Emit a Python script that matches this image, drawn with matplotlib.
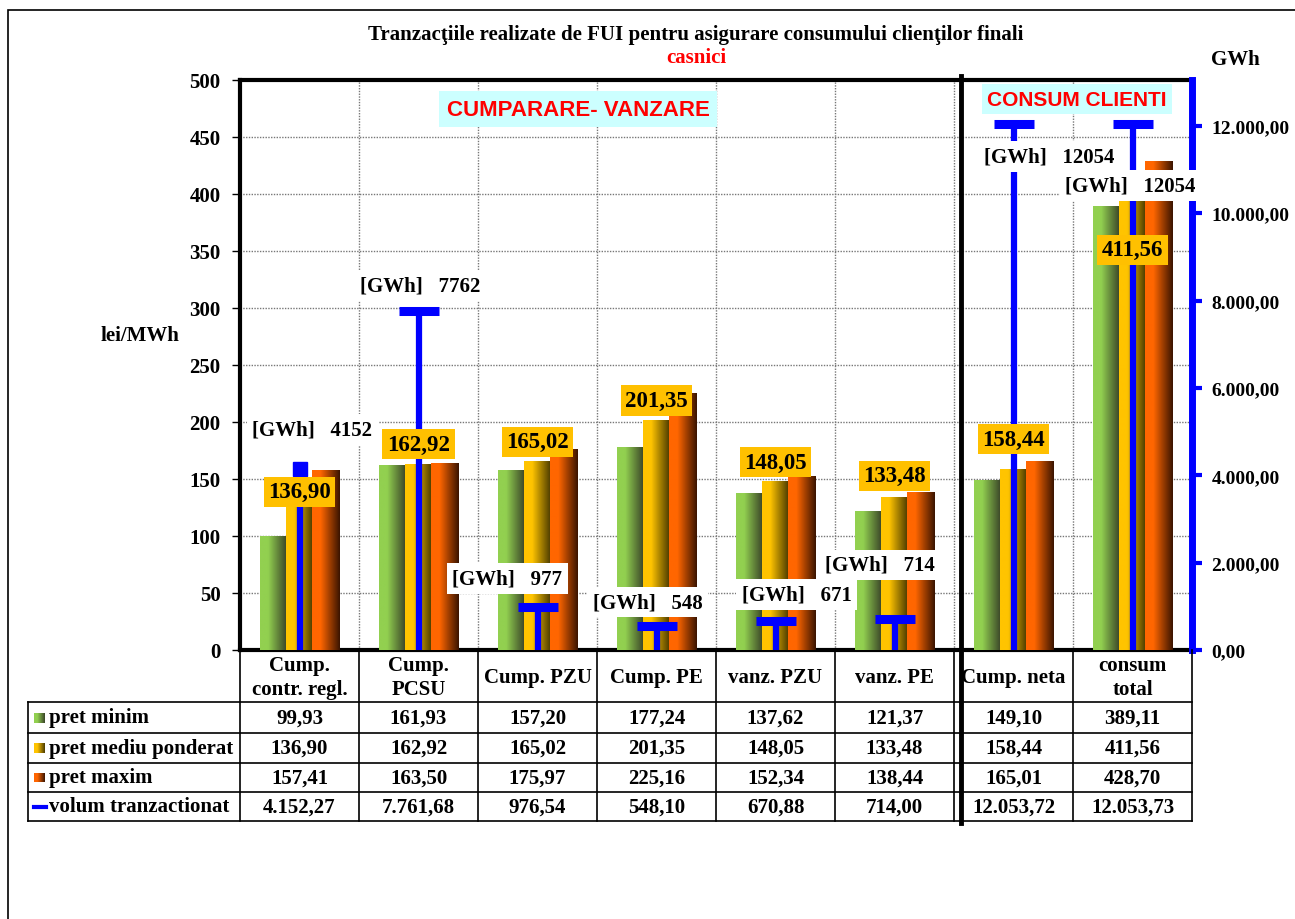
import matplotlib.pyplot as plt
import numpy as np
from matplotlib.colors import LinearSegmentedColormap
from matplotlib.patches import Rectangle
from matplotlib.lines import Line2D

plt.rcParams['font.family'] = ['Liberation Serif', 'DejaVu Serif']
plt.rcParams['font.weight'] = 'bold'

# data
categorii = ['Cump.\ncontr. regl.', 'Cump.\nPCSU', 'Cump. PZU', 'Cump. PE',
             'vanz. PZU', 'vanz. PE', 'Cump. neta', 'consum\ntotal']
pret_minim = [99.93, 161.93, 157.20, 177.24, 137.62, 121.37, 149.10, 389.11]
pret_mediu = [136.90, 162.92, 165.02, 201.35, 148.05, 133.48, 158.44, 411.56]
pret_maxim = [157.41, 163.50, 175.97, 225.16, 152.34, 138.44, 165.01, 428.70]
volum = [4152.27, 7761.68, 976.54, 548.10, 670.88, 714.00, 12053.72, 12053.73]
serii = ['pret minim', 'pret mediu ponderat', 'pret maxim', 'volum tranzactionat']

# offsets of the hand-placed labels (pixels)
off_gwh = [(13, 39), (2, 25), (-30, 29), (-9, 24), (21, 26), (-15, 54), (36, -33), (-2, -62)]
off_pret = [(0, 2), (0, 20), (0, 20), (0, 20), (0, 19), (0, 22), (0, 30), (0, -69)]


def fmt_ro(v, dec=2):
    s = f'{v:,.{dec}f}'
    return s.replace(',', 'X').replace('.', ',').replace('X', '.')


W, H = 1295, 920
fig = plt.figure(figsize=(W / 100, H / 100), dpi=100)


def fx(px):
    return px / W


def fy(py):
    return 1 - py / H


FS = 15

# outer frame
fig.add_artist(Rectangle((fx(8), fy(930)), fx(1300), fy(11) - fy(930), transform=fig.transFigure,
                         fill=False, ec='black', lw=1.2))

ax = fig.add_axes([fx(240), fy(651), fx(1192) - fx(240), fy(81) - fy(651)])
ax2 = ax.twinx()

n = len(categorii)
x = np.arange(n)
culori = [('#92D050', '#3A4428'), ('#FFC400', '#4A3A00'), ('#FF6600', '#3A1400')]
latimi = [0.22, 0.22, 0.235]
offs = [-0.22, 0.0, 0.225]
grad = np.linspace(0, 1, 128).reshape(1, -1)
cmaps = []
for c0, c1 in culori:
    cm = LinearSegmentedColormap.from_list('g', [(0, c0), (0.3, c0), (1, c1)])
    cmaps.append(cm)

for vals, w, o, cm in zip([pret_minim, pret_mediu, pret_maxim], latimi, offs, cmaps):
    bars = ax.bar(x + o, vals, w, color='none', zorder=3)
    for b in bars:
        x0 = b.get_x()
        ax.imshow(grad, extent=[x0, x0 + b.get_width(), 0, b.get_height()], aspect='auto',
                  cmap=cm, zorder=3, interpolation='bilinear')

ax.set_xlim(-0.5, n - 0.5)
ax.set_ylim(0, 500)
ax.set_yticks(np.arange(0, 501, 50))
ax.set_xticks(np.arange(n + 1) - 0.5, minor=False)
ax.set_xticklabels([])
ax.tick_params(axis='x', length=0)
ax.tick_params(axis='y', labelsize=FS, length=6, width=1, pad=8)
for t in ax.get_yticklabels():
    t.set_fontweight('bold')
ax.grid(True, color='#777777', ls=(0, (1, 1)), lw=1, zorder=0)
for s in ['left', 'bottom', 'top']:
    ax.spines[s].set_linewidth(3)
ax.spines['right'].set_visible(False)

# volume on right axis
ax2.set_ylim(0, 13050)
ax2.vlines(x, 0, volum, colors='#0000FF', lw=4.5, zorder=4)
ax2.plot(x[:1], volum[:1], ls='none', marker='s', ms=10, color='#0000FF', zorder=4)
ax2.plot(x[1:], volum[1:], ls='none', marker='_', ms=29, mew=6.5, color='#0000FF', zorder=4)
ax2.set_yticks(np.arange(0, 12001, 2000))
ax2.set_yticklabels([fmt_ro(v) for v in np.arange(0, 12001, 2000)], fontsize=14, fontweight='bold')
ax2.tick_params(axis='y', colors='#0000FF', labelcolor='black', length=7, width=3, pad=7)
ax2.spines['right'].set_color('#0000FF')
ax2.spines['right'].set_linewidth(5)
for s in ['left', 'bottom', 'top']:
    ax2.spines[s].set_visible(False)

# labels
for i in range(n):
    ax2.annotate(f'[GWh]   {volum[i]:.0f}', xy=(x[i], volum[i]), xytext=off_gwh[i],
                 textcoords='offset pixels', ha='center', va='center', fontsize=FS,
                 fontweight='bold', zorder=10,
                 bbox=dict(boxstyle='square,pad=0.25', fc='white', ec='none'))
    ax2.annotate(fmt_ro(pret_mediu[i]), xy=(x[i], pret_mediu[i]), xycoords=ax.transData,
                 xytext=off_pret[i], textcoords='offset pixels', ha='center', va='center',
                 fontsize=16.5, fontweight='bold', zorder=10,
                 bbox=dict(boxstyle='square,pad=0.2', fc='#FFC000', ec='none'))

fig.text(fx(578), fy(110), 'CUMPARARE- VANZARE', ha='center', va='center', color='red',
         fontsize=16, fontweight='bold', family=['Liberation Sans', 'DejaVu Sans'],
         bbox=dict(boxstyle='square,pad=0.35', fc='#CCFFFF', ec='none'), zorder=10)
fig.text(fx(1077), fy(100), 'CONSUM CLIENTI', ha='center', va='center', color='red',
         fontsize=15, fontweight='bold', family=['Liberation Sans', 'DejaVu Sans'],
         bbox=dict(boxstyle='square,pad=0.25', fc='#CCFFFF', ec='none'), zorder=10)

fig.text(fx(696), fy(35), 'Tranzacţiile realizate de FUI pentru asigurare consumului clienţilor finali',
         ha='center', va='center', fontsize=15, fontweight='bold')
fig.text(fx(696), fy(58), 'casnici', ha='center', va='center', fontsize=15, fontweight='bold',
         color='red')
fig.text(fx(140), fy(336), 'lei/MWh', ha='center', va='center', fontsize=FS, fontweight='bold')
fig.text(fx(1235), fy(60), 'GWh', ha='center', va='center', fontsize=FS, fontweight='bold')

# data table below the axis
to_fig = ax.transData + fig.transFigure.inverted()


def colx(v):
    return to_fig.transform((v, 0))[0]


rows_y = [651, 703, 734, 764, 793, 822]
xl = fx(28)
xr = colx(n - 0.5)
lw_t = 1.2
for yy in rows_y[1:]:
    fig.add_artist(Line2D([xl, xr], [fy(yy)] * 2, transform=fig.transFigure, color='black', lw=lw_t))
fig.add_artist(Line2D([xl, xl], [fy(703), fy(822)], transform=fig.transFigure, color='black', lw=lw_t))
for j in range(n + 1):
    xc = colx(j - 0.5)
    fig.add_artist(Line2D([xc, xc], [fy(651), fy(822)], transform=fig.transFigure, color='black',
                          lw=lw_t))
for j in range(n):
    xc = colx(j)
    fig.text(xc, fy((rows_y[0] + rows_y[1]) / 2 + 1), categorii[j], ha='center', va='center',
             fontsize=FS, fontweight='bold', linespacing=1.25)
    for r, vals in enumerate([pret_minim, pret_mediu, pret_maxim, volum]):
        fig.text(xc, fy((rows_y[r + 1] + rows_y[r + 2]) / 2), fmt_ro(vals[j]), ha='center',
                 va='center', fontsize=FS, fontweight='bold')

# legend keys in table
for r, nume in enumerate(serii):
    yc = (rows_y[r + 1] + rows_y[r + 2]) / 2
    if r < 3:
        kax = fig.add_axes([fx(34), fy(yc + 5), fx(11), fy(yc - 5) - fy(yc + 5)])
        kax.imshow(grad, aspect='auto', cmap=cmaps[r], extent=[0, 1, 0, 1])
        kax.axis('off')
    else:
        fig.add_artist(Line2D([fx(34), fx(46)], [fy(yc)] * 2, transform=fig.transFigure,
                              color='#0000FF', lw=3))
    fig.text(fx(49), fy(yc), nume, ha='left', va='center', fontsize=FS, fontweight='bold')

# thick separator line
xs = colx(5.56)
fig.add_artist(Line2D([xs, xs], [fy(77), fy(824)], transform=fig.transFigure, color='black', lw=3.5,
                      zorder=20))

fig.savefig('out.png', dpi=100)
